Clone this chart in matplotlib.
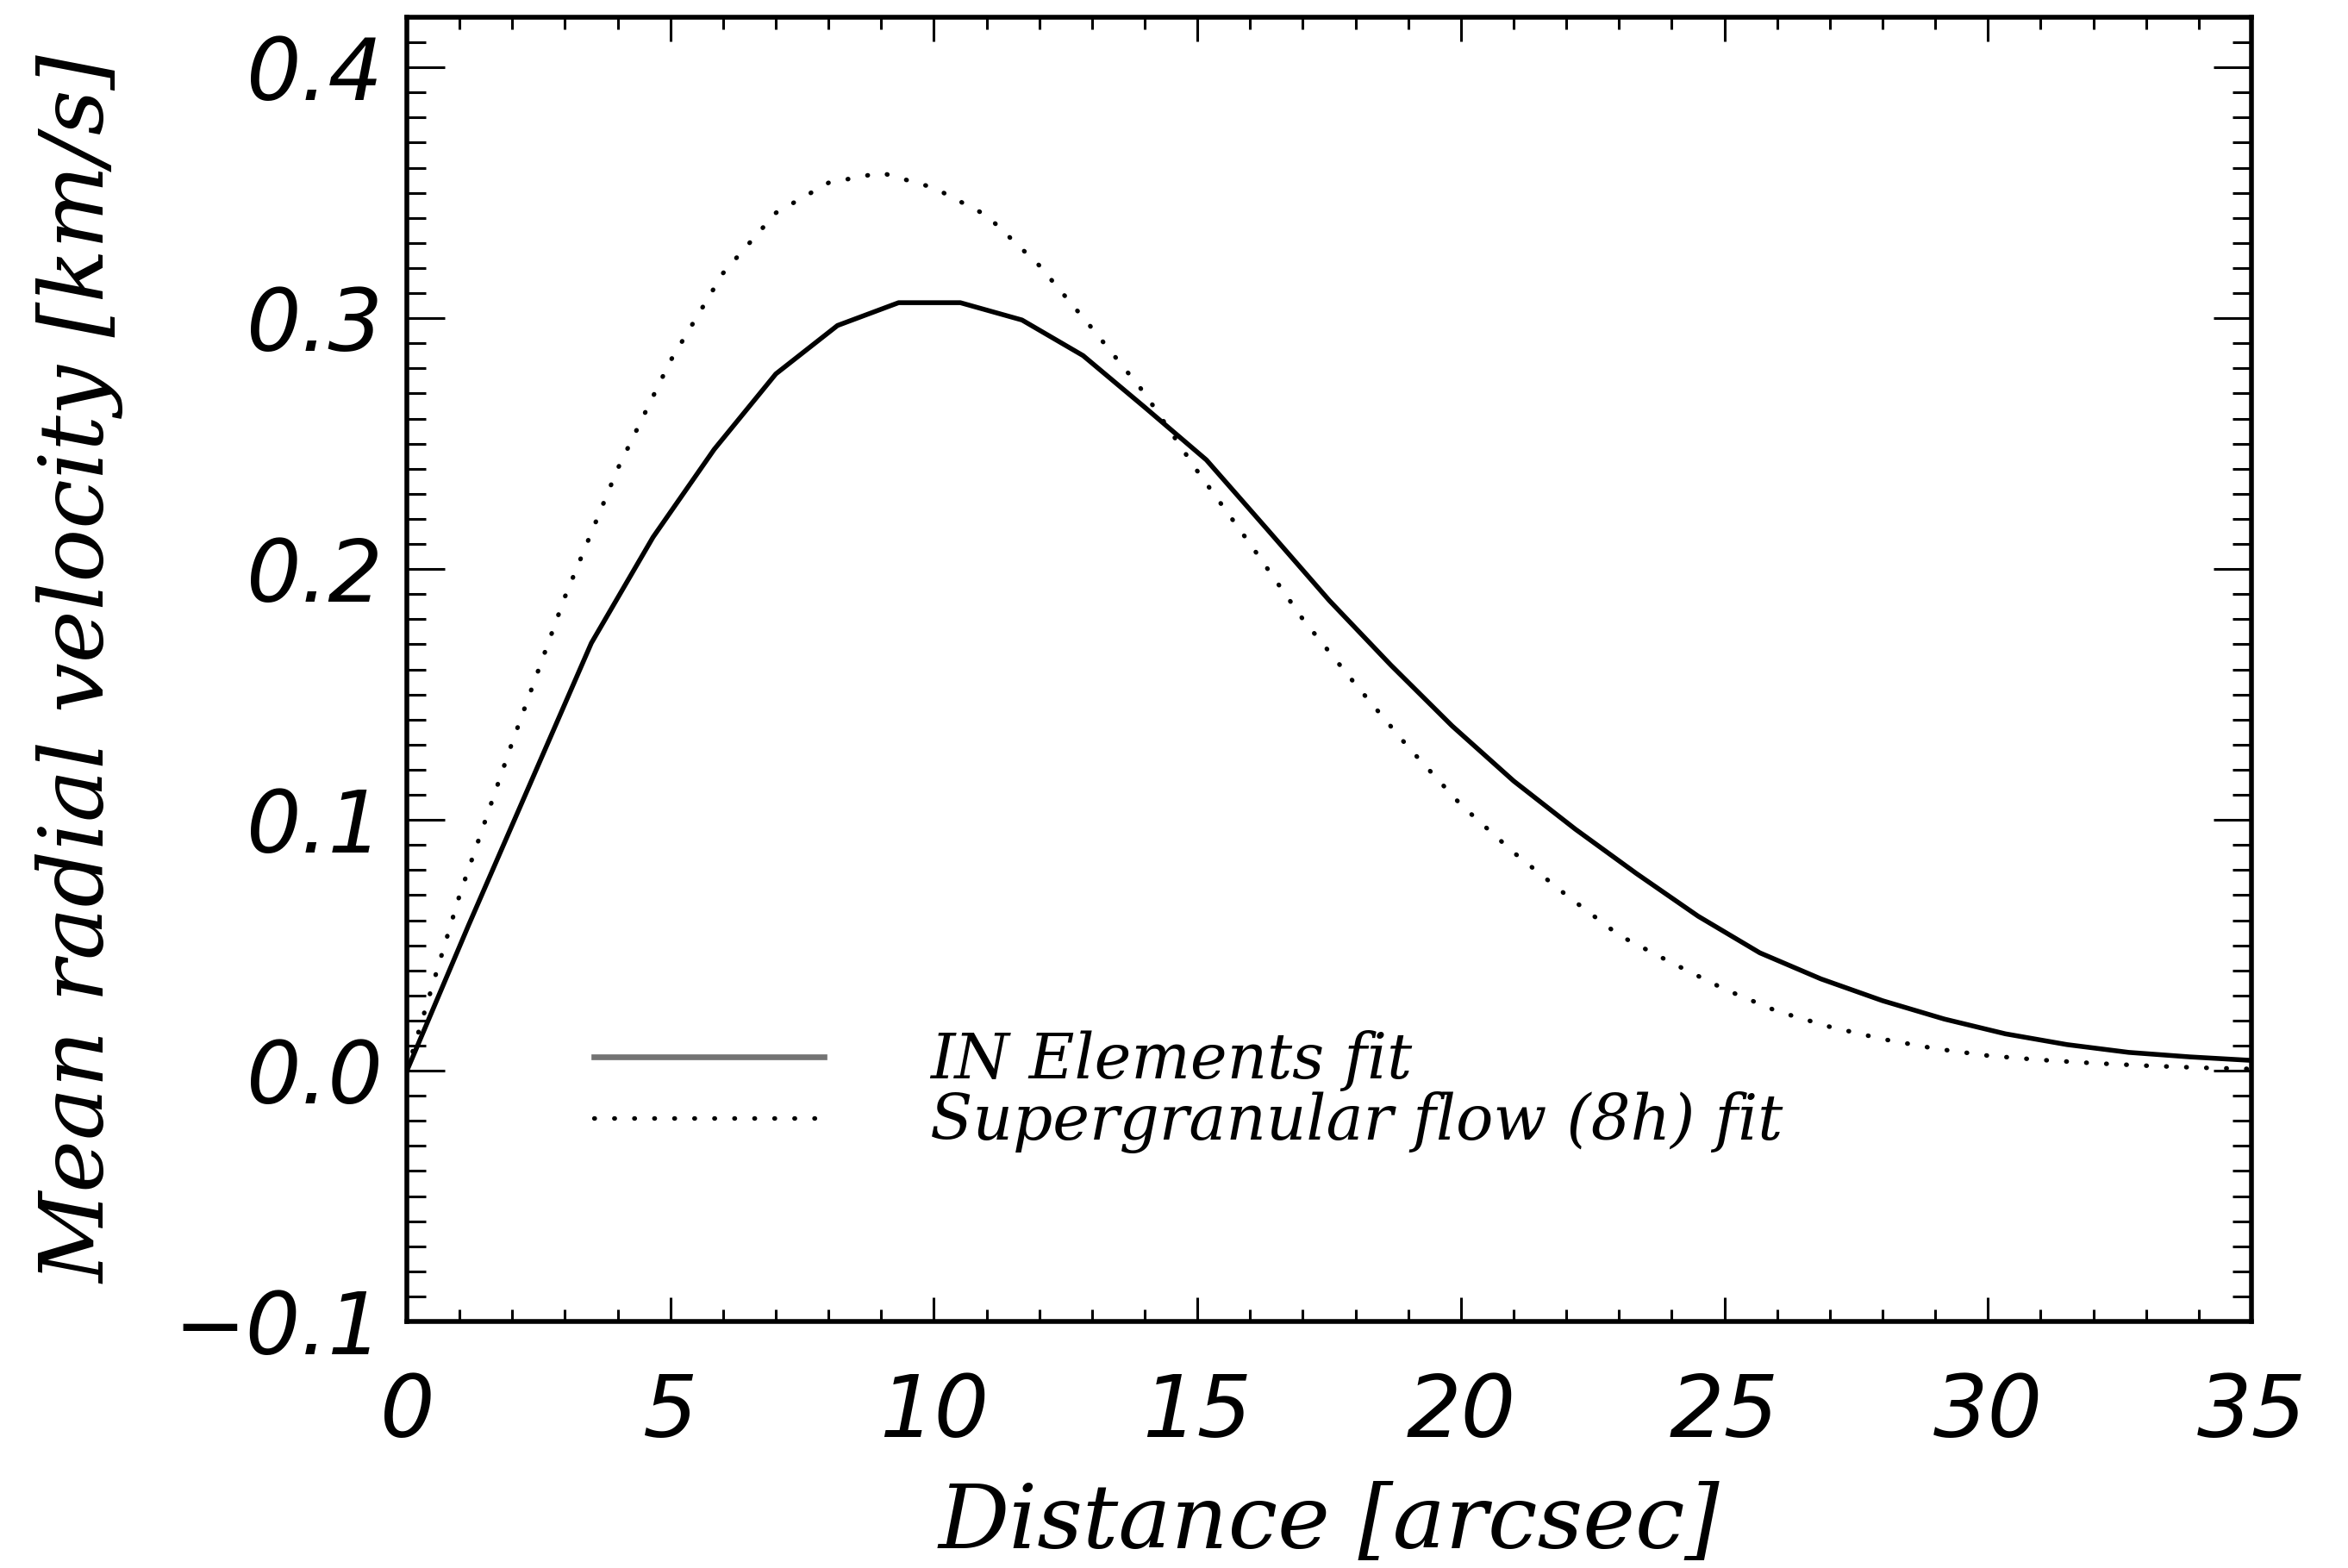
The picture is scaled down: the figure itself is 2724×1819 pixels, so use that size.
import matplotlib
matplotlib.use("Agg")
import matplotlib.pyplot as plt
from matplotlib.ticker import MultipleLocator, FuncFormatter

# IN elements fit (coarse sampling, ~1.17 arcsec steps)
dist_in = [0.0, 1.17, 2.33, 3.5, 4.67, 5.83, 7.0, 8.17, 9.33, 10.5, 11.67,
           12.83, 14.0, 15.17, 16.33, 17.5, 18.67, 19.83, 21.0, 22.17, 23.33,
           24.5, 25.67, 26.83, 28.0, 29.17, 30.33, 31.5, 32.67, 33.83, 35.0]
vel_in = [0.0, 0.058, 0.114, 0.1705, 0.2127, 0.2477, 0.2778, 0.2971, 0.3062,
          0.3062, 0.2993, 0.2851, 0.2645, 0.2435, 0.2157, 0.1875, 0.1617,
          0.1375, 0.1155, 0.0963, 0.0786, 0.0616, 0.0470, 0.0366, 0.0279,
          0.0206, 0.0147, 0.0104, 0.0073, 0.0055, 0.0041]

# supergranular flow (8h) fit
dist_sg = [0, 1, 2, 3, 4, 5, 6, 7, 8, 9, 10, 11, 12, 13, 14, 15, 16, 17, 18,
           19, 20, 21, 22, 23, 24, 25, 26, 27, 28, 29, 30, 31, 32, 33, 34, 35]
vel_sg = [0.0, 0.070, 0.131, 0.189, 0.240, 0.283, 0.318, 0.342, 0.354, 0.358,
          0.352, 0.341, 0.321, 0.296, 0.270, 0.239, 0.210, 0.180, 0.154,
          0.129, 0.106, 0.087, 0.070, 0.054, 0.043, 0.0325, 0.0237, 0.0175,
          0.0126, 0.0088, 0.0060, 0.0043, 0.0030, 0.0020, 0.0012, 0.0007]

labels = ["IN Elements fit", "Supergranular flow (8h) fit"]

tick_font = dict(family="DejaVu Sans", style="oblique", size=36)
title_font = dict(family="DejaVu Serif", style="italic", size=37)

fig = plt.figure(figsize=(13.62, 9.095), dpi=200)
fig.subplots_adjust(left=0.1733, right=0.9589, bottom=0.1572, top=0.989)
ax = fig.add_subplot(111)

ax.plot(dist_in, vel_in, color="black", lw=2.0, label=labels[0])
ax.plot(dist_sg, vel_sg, color="black", lw=1.9, linestyle=(0, (0.1, 4.3)),
        dash_capstyle="round", label=labels[1])

ax.set_xlim(0, 35)
ax.set_ylim(-0.1, 0.42)

ax.xaxis.set_major_locator(MultipleLocator(5))
ax.xaxis.set_minor_locator(MultipleLocator(1))
ax.yaxis.set_major_locator(MultipleLocator(0.1))
ax.yaxis.set_minor_locator(MultipleLocator(0.01))
ax.xaxis.set_major_formatter(FuncFormatter(lambda v, p: "%d" % round(v)))
ax.yaxis.set_major_formatter(
    FuncFormatter(lambda v, p: ("%.1f" % v).replace("-", "\u2212")))

for s in ax.spines.values():
    s.set_linewidth(2.0)

ax.tick_params(axis="x", which="both", direction="in", top=True, bottom=True,
               width=1.1, pad=21)
ax.tick_params(axis="x", which="major", length=10)
ax.tick_params(axis="x", which="minor", length=5)
ax.tick_params(axis="y", which="both", direction="in", left=True, right=True,
               width=1.1, pad=10)
ax.tick_params(axis="y", which="major", length=16)
ax.tick_params(axis="y", which="minor", length=8)
for lab in ax.get_xticklabels() + ax.get_yticklabels():
    lab.set_fontfamily(tick_font["family"])
    lab.set_fontstyle(tick_font["style"])
    lab.set_fontsize(tick_font["size"])

ax.set_xlabel("Distance [arcsec]", va="center", **title_font)
ax.set_ylabel("Mean radial velocity [km/s]", va="center", **title_font)
ax.xaxis.set_label_coords(0.5, -0.155)
ax.yaxis.set_label_coords(-0.177, 0.5)

leg = ax.legend(loc="upper left", bbox_to_anchor=(0.1015, 0.2235),
                frameon=False, borderpad=0, borderaxespad=0,
                handlelength=3.7, handletextpad=1.7, labelspacing=0.0,
                prop=dict(family="DejaVu Serif", style="italic", size=26))
leg.get_lines()[0].set_color("0.45")
leg.get_lines()[0].set_linewidth(2.4)

fig.savefig("out.png", dpi=200)
